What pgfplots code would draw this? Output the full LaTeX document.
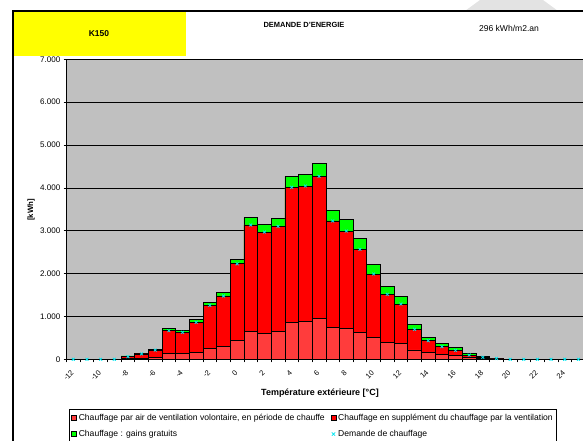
\documentclass[border=0pt]{standalone}
\usepackage{fontspec}
\setmainfont{Liberation Sans}
\usepackage{pgfplots}
\pgfplotsset{compat=1.18}
\usepackage{pgfplotstable}
\definecolor{bggray}{RGB}{192,192,192}
\definecolor{lred}{RGB}{255,60,60}
\definecolor{mred}{RGB}{255,0,0}
\definecolor{mgreen}{RGB}{0,255,0}
\definecolor{mcyan}{RGB}{0,230,240}
\definecolor{yel}{RGB}{255,255,0}

\pgfplotstableread{
t lower redtop total
-12 0 0 0
-11 0 0 0
-10 0 0 0
-9 0 0 0
-8 20 60 80
-7 30 125 145
-6 47 215 233
-5 140 667 723
-4 140 630 667
-3 170 863 933
-2 248 1260 1321
-1 310 1477 1555
0 450 2228 2340
1 644 3134 3304
2 606 2970 3141
3 644 3103 3290
4 863 4013 4270
5 887 4043 4307
6 957 4270 4580
7 737 3227 3483
8 718 2993 3266
9 630 2566 2823
10 513 1990 2216
11 397 1516 1694
12 364 1290 1470
13 217 700 807
14 154 434 520
15 117 294 373
16 92 208 280
17 47 100 140
18 20 47 70
19 10 20 30
20 0 0 0
21 0 0 0
22 0 0 0
23 0 0 0
24 0 0 0
25 0 0 0
}\data

\begin{document}
\begin{tikzpicture}[x=1bp,y=1bp]
% header decoration and frame
\fill[gray!22] (465,430) -- (480,441) -- (543,441) -- (558,430) -- cycle;
\fill[yel] (14,385) rectangle (186,429.5);
\draw[line width=1.3bp] (13,-5) -- (13,430) -- (600,430);
\node[font=\bfseries\fontsize{8.5}{9}\selectfont] at (99,407) {K150};
\node[font=\bfseries\fontsize{7.5}{8}\selectfont] at (304,416) {DEMANDE D'ENERGIE};
\node[font=\fontsize{8.6}{9}\selectfont] at (509,413) {296 kWh/m2.an};

\begin{axis}[
  at={(66.5bp,81.7bp)}, anchor=south west,
  scale only axis, width=518.7bp, height=300bp,
  xmin=-12.5, xmax=25.5, ymin=0, ymax=7000,
  axis background/.style={fill=bggray},
  axis x line*=bottom, axis y line*=left,
  axis line style={black, line width=0.8bp},
  ymajorgrids, grid style={black, line width=0.7bp},
  ytick={0,1000,...,7000},
  xtick={-12.5,-11.5,...,25.5}, xticklabels={},
  extra x ticks={-12,-10,...,24},
  extra x tick labels={-12,-10,-8,-6,-4,-2,0,2,4,6,8,10,12,14,16,18,20,22,24},
  extra x tick style={major tick length=0pt, xticklabel style={rotate=45, anchor=north east, font=\fontsize{7.5}{8}\selectfont, inner sep=1bp, yshift=-4bp, xshift=-8bp}},
  tick align=outside, major tick length=3bp,
  tick style={black, line width=0.7bp},
  yticklabel style={font=\fontsize{8.1}{8}\selectfont, inner sep=1bp, xshift=-2bp},
  /pgf/number format/assume math mode=true,
  /pgf/number format/1000 sep={.},
  legend style={at={(axis description cs:0.0048,-0.166)}, anchor=north west,
    draw=black, line width=0.6bp, font=\fontsize{8.6}{9}\selectfont,
    /tikz/every even column/.append style={column sep=4bp},
    row sep=4.5bp, inner xsep=2bp, inner ysep=2.5bp},
  legend columns=2, legend cell align=left,
  legend image code/.code={\draw[#1, line width=0.5bp] (0bp,-2.5bp) rectangle (5bp,2.5bp);},
]
\addlegendimage{fill=lred, draw=black}
\addlegendentry{Chauffage par air de ventilation volontaire, en période de chauffe}
\addlegendimage{fill=mred, draw=black}
\addlegendentry{Chauffage en supplément du chauffage par la ventilation}
\addlegendimage{fill=mgreen, draw=black}
\addlegendentry{Chauffage : gains gratuits}
\addlegendimage{legend image code/.code={\draw[mcyan, line width=0.7bp] (0.8bp,-1.7bp) -- (4.2bp,1.7bp) (0.8bp,1.7bp) -- (4.2bp,-1.7bp);}}
\addlegendentry{Demande de chauffage}

\addplot[ybar, bar width=1, bar shift=0pt, fill=mgreen, draw=black, line width=0.7bp, forget plot] table[x=t, y=total] {\data};
\addplot[ybar, bar width=1, bar shift=0pt, fill=mred, draw=black, line width=0.7bp, forget plot] table[x=t, y=redtop] {\data};
\addplot[ybar, bar width=1, bar shift=0pt, fill=lred, draw=black, line width=0.7bp, forget plot] table[x=t, y=lower] {\data};
\addplot[only marks, mark=x, mark size=2bp, mcyan, line width=0.8bp, forget plot] table[x=t, y=redtop] {\data};
\end{axis}

\node[font=\bfseries\fontsize{7.8}{8}\selectfont, rotate=90] at (31,231) {[kWh]};
\node[font=\bfseries\fontsize{9}{10}\selectfont] at (320,48) {Température extérieure [°C]};

\pgfresetboundingbox
\path[use as bounding box] (0,0) rectangle (583,441);
\end{tikzpicture}
\end{document}
